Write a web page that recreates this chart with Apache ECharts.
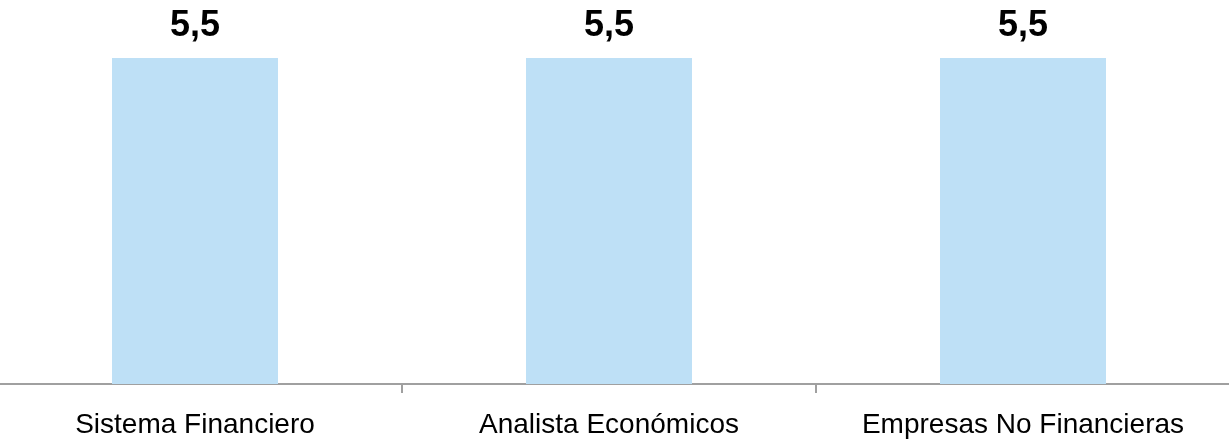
<!DOCTYPE html>
<html>
<head>
<meta charset="utf-8">
<style>
  html, body { margin: 0; padding: 0; background: #ffffff; overflow: hidden; width: 1229px; height: 442px; }
  #chart { position: absolute; left: -12px; top: 0; width: 1242px; height: 442px; }
</style>
<script src="https://cdn.jsdelivr.net/npm/echarts@6/dist/echarts.min.js"></script>
</head>
<body>
<div id="chart"></div>
<script>
const categories = ['Sistema Financiero', 'Analista Económicos', 'Empresas No Financieras'];
const values = [5.5, 5.5, 5.5];

const chart = echarts.init(document.getElementById('chart'), null, { renderer: 'canvas' });
chart.setOption({
  animation: false,
  backgroundColor: '#ffffff',
  grid: { left: 0, right: 0, top: 58, bottom: 58, containLabel: false },
  xAxis: {
    type: 'category',
    data: categories,
    axisLine: { show: true, lineStyle: { color: '#a0a0a0', width: 2 } },
    axisTick: { show: true, length: 9, lineStyle: { color: '#a0a0a0', width: 2 } },
    axisLabel: {
      color: '#000000',
      fontFamily: 'Arial, "Liberation Sans", sans-serif',
      fontSize: 28,
      margin: 27,
      interval: 0
    }
  },
  yAxis: {
    type: 'value',
    min: 0,
    max: 5.5,
    show: false,
    splitLine: { show: false }
  },
  series: [{
    type: 'bar',
    data: values,
    barWidth: 166,
    itemStyle: { color: '#BEE0F6' },
    label: {
      show: true,
      position: 'top',
      distance: 14,
      color: '#000000',
      fontFamily: 'Arial, "Liberation Sans", sans-serif',
      fontWeight: 'bold',
      fontSize: 36,
      formatter: p => String(p.value).replace('.', ',')
    }
  }]
});
</script>
</body>
</html>
